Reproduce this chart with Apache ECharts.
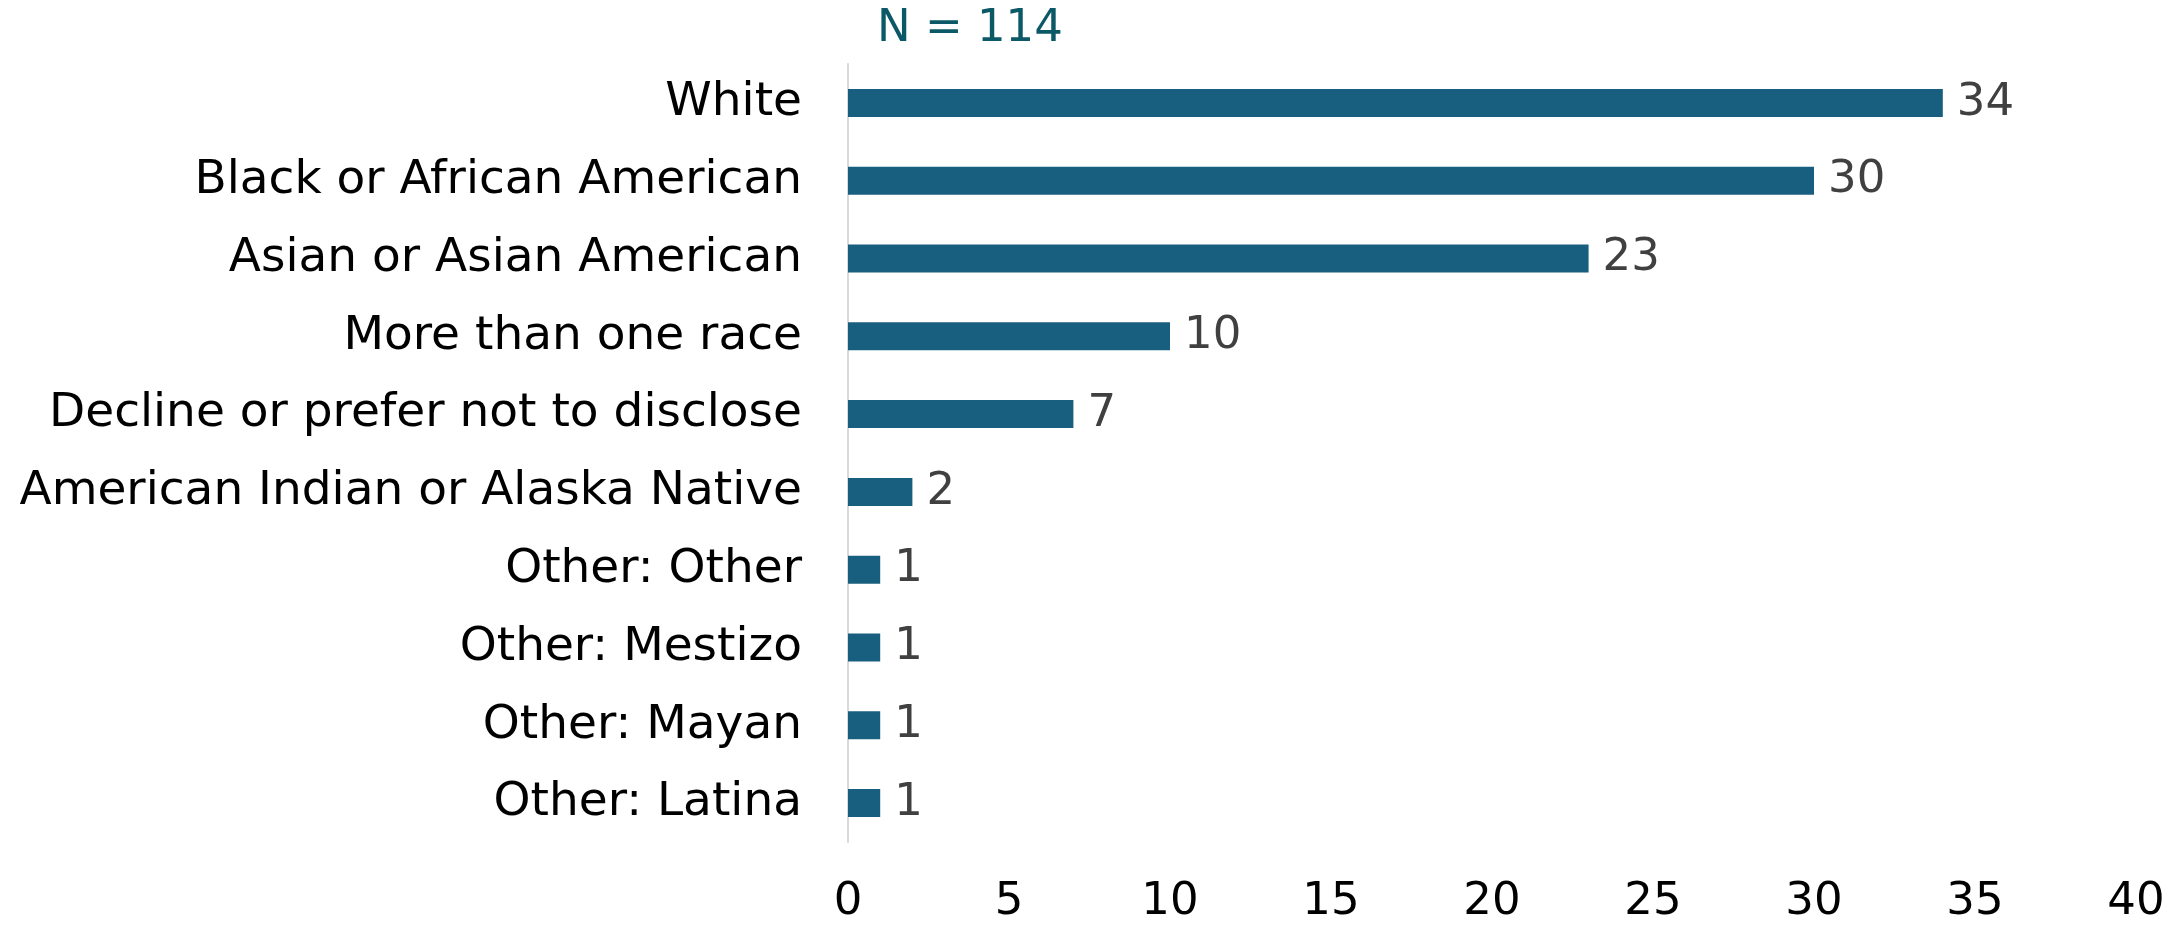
<!DOCTYPE html>
<html>
<head>
<meta charset="utf-8">
<script src="https://cdn.jsdelivr.net/npm/echarts@6/dist/echarts.min.js"></script>
<style>
html,body{margin:0;padding:0;background:#fff;}
#chart{width:2168px;height:929px;}
</style>
</head>
<body>
<div id="chart"></div>
<script>
const categories = [
  "White",
  "Black or African American",
  "Asian or Asian American",
  "More than one race",
  "Decline or prefer not to disclose",
  "American Indian or Alaska Native",
  "Other: Other",
  "Other: Mestizo",
  "Other: Mayan",
  "Other: Latina"
];
const counts = [34, 30, 23, 10, 7, 2, 1, 1, 1, 1];
const xTicks = [0, 5, 10, 15, 20, 25, 30, 35, 40];
const titleText = "N = 114";

const chart = echarts.init(document.getElementById('chart'), null, {renderer: 'canvas'});
chart.setOption({
  animation: false,
  backgroundColor: '#ffffff',
  title: {
    text: titleText,
    left: 872,
    top: 2,
    textStyle: {fontFamily: 'DejaVu Sans', fontSize: 45, fontWeight: 'normal', color: '#0b5866'}
  },
  grid: {left: 848, right: 32, top: 64, bottom: 87, containLabel: false},
  xAxis: {
    type: 'value',
    min: xTicks[0],
    max: xTicks[xTicks.length - 1],
    interval: 5,
    axisLine: {show: false},
    axisTick: {show: false},
    splitLine: {show: false},
    axisLabel: {fontFamily: 'DejaVu Sans', fontSize: 45, color: '#000', margin: 38}
  },
  yAxis: {
    type: 'category',
    data: categories,
    inverse: true,
    axisLine: {show: true, lineStyle: {color: '#d9d9d9', width: 2}},
    axisTick: {show: false},
    axisLabel: {fontFamily: 'DejaVu Sans', fontSize: 47, color: '#000', margin: 46}
  },
  series: [{
    type: 'bar',
    data: counts,
    barWidth: 28,
    itemStyle: {color: '#185f7f'},
    label: {
      show: true,
      position: 'right',
      distance: 14,
      fontFamily: 'DejaVu Sans',
      fontSize: 45,
      color: '#404040'
    }
  }]
});
</script>
</body>
</html>
